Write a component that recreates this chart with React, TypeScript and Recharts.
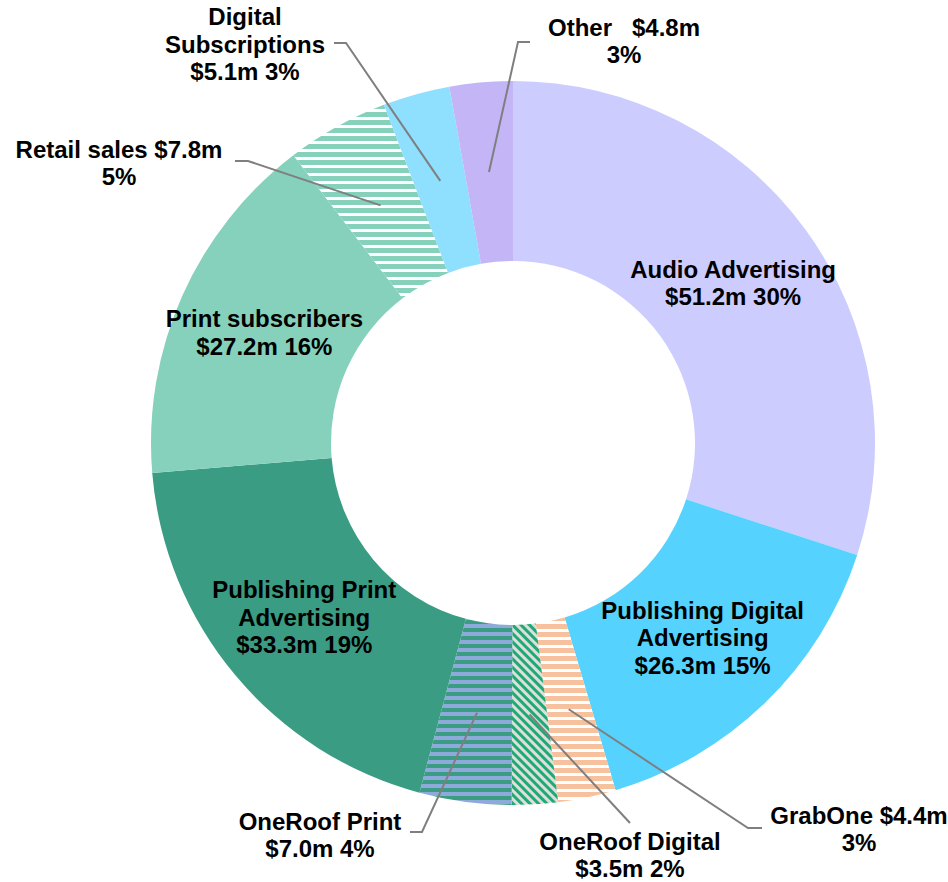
import React from 'react'
import { PieChart, Pie, Cell } from 'recharts'

// revenue by segment, clockwise from 12 o'clock
const categories = [
  'Audio Advertising',
  'Publishing Digital Advertising',
  'GrabOne',
  'OneRoof Digital',
  'OneRoof Print',
  'Publishing Print Advertising',
  'Print subscribers',
  'Retail sales',
  'Digital Subscriptions',
  'Other',
]
const revenue = [51.2, 26.3, 4.4, 3.5, 7.0, 33.3, 27.2, 7.8, 5.1, 4.8]
const shares = [30, 15, 3, 2, 4, 19, 16, 5, 3, 3]

// how each label is broken into lines: {n} name, {v} value, {p} share
const labelTemplates = [
  '{n}|{v} {p}',
  'Publishing Digital|Advertising|{v} {p}',
  '{n} {v}|{p}',
  '{n}|{v} {p}',
  '{n}|{v} {p}',
  'Publishing Print|Advertising|{v} {p}',
  '{n}|{v} {p}',
  '{n} {v}|{p}',
  'Digital|Subscriptions|{v} {p}',
  '{n}\u00a0\u00a0\u00a0{v}|{p}',
]

const fills = [
  '#CCCCFF',
  '#55D3FE',
  'url(#pGrab)',
  'url(#pRoofDigital)',
  'url(#pRoofPrint)',
  '#3A9C83',
  '#85D1BB',
  'url(#pRetail)',
  '#8FDFFF',
  '#C4B5F6',
]

// outside labels: elbow of leader, tail length, text block centre (offsets from pie centre)
const outside: Record<number, { ex: number; ey: number; tail: number; tx: number; ty: number }> = {
  2: { ex: 235, ey: 385, tail: 14, tx: 346, ty: 386 },
  3: { ex: 117, ey: 380, tail: 0, tx: 117, ty: 412 },
  4: { ex: -91, ey: 389, tail: -12, tx: -193, ty: 392 },
  7: { ex: -265, ey: -282, tail: -13, tx: -394, ty: -280 },
  8: { ex: -167, ey: -400, tail: -12, tx: -268, ty: -399 },
  9: { ex: 5, ey: -401, tail: 12, tx: 111, ty: -402 },
}

const data = categories.map((name, i) => ({ name, value: revenue[i], share: shares[i] }))

const RAD = Math.PI / 180
const LINE = 27.5

const linesFor = (i: number) =>
  labelTemplates[i]
    .replace('{n}', categories[i])
    .replace('{v}', `$${revenue[i].toFixed(1)}m`)
    .replace('{p}', `${shares[i]}%`)
    .split('|')

const TextBlock = ({ x, y, lines }: { x: number; y: number; lines: string[] }) => {
  const first = y - ((lines.length - 1) * LINE) / 2 + 8.5
  return (
    <text
      textAnchor="middle"
      fontFamily="'Liberation Sans', Arial, sans-serif"
      fontWeight="bold"
      fontSize={24}
      fill="#000"
    >
      {lines.map((l, k) => (
        <tspan key={k} x={x} y={first + k * LINE}>
          {l}
        </tspan>
      ))}
    </text>
  )
}

const renderLabel = (props: any) => {
  const { cx, cy, midAngle, innerRadius, outerRadius, index } = props
  const r = (innerRadius + outerRadius) / 2
  const px = cx + r * Math.cos(-midAngle * RAD)
  const py = cy + r * Math.sin(-midAngle * RAD)
  const lines = linesFor(index)
  const o = outside[index]
  if (!o) return <TextBlock key={index} x={px} y={py} lines={lines} />
  const ex = cx + o.ex
  const ey = cy + o.ey
  return (
    <g key={index}>
      <polyline
        points={`${px},${py} ${ex},${ey} ${ex + o.tail},${ey}`}
        fill="none"
        stroke="#7F7F7F"
        strokeWidth={2}
      />
      <TextBlock x={cx + o.tx} y={cy + o.ty} lines={lines} />
    </g>
  )
}

const App = () => {
  return (
    <div style={{ position: 'absolute', left: 0, top: 0, background: '#fff' }}>
      <PieChart width={948} height={882} margin={{ top: 0, right: 0, bottom: 0, left: 0 }}>
        <defs>
          <pattern id="pGrab" patternUnits="userSpaceOnUse" width="8" height="8">
            <rect width="8" height="8" fill="#fff" />
            <rect width="8" height="5" fill="#F8C19D" />
          </pattern>
          <pattern id="pRetail" patternUnits="userSpaceOnUse" width="8" height="8">
            <rect width="8" height="8" fill="#fff" />
            <rect width="8" height="5" fill="#85D1BB" />
          </pattern>
          <pattern id="pRoofPrint" patternUnits="userSpaceOnUse" width="8" height="8">
            <rect width="8" height="8" fill="#3A9C83" />
            <rect width="8" height="4" fill="#8EAADB" />
          </pattern>
          <pattern
            id="pRoofDigital"
            patternUnits="userSpaceOnUse"
            width="6"
            height="6"
            patternTransform="rotate(45)"
          >
            <rect width="6" height="6" fill="#DEDEDE" />
            <rect width="6" height="3" fill="#1FAA74" />
          </pattern>
        </defs>
        <Pie
          data={data}
          dataKey="value"
          nameKey="name"
          cx={513}
          cy={443}
          innerRadius={182}
          outerRadius={362}
          startAngle={90}
          endAngle={-270}
          stroke="none"
          label={renderLabel}
          labelLine={false}
          isAnimationActive={false}
        >
          {data.map((d, i) => (
            <Cell key={d.name} fill={fills[i]} />
          ))}
        </Pie>
      </PieChart>
    </div>
  )
}

export default App
